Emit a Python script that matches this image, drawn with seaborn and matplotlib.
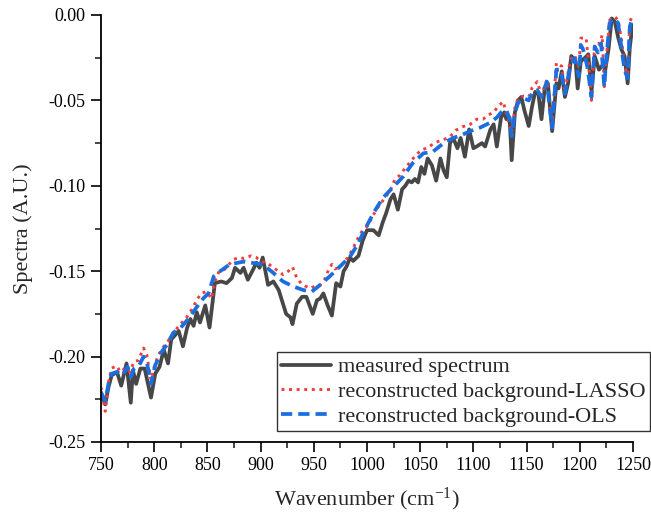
import matplotlib
matplotlib.use("Agg")
import matplotlib.pyplot as plt
from matplotlib.ticker import MultipleLocator, FormatStrFormatter
import seaborn as sns
import pandas as pd

# measured spectrum
wn_meas = [750, 754, 757, 760, 765, 769, 774, 778, 780, 783, 787, 791, 797, 801,
           805, 809, 813, 816, 823, 827, 831, 834, 837, 840, 843, 848, 852, 857,
           863, 868, 873, 876, 881, 884, 888, 893, 896, 899, 902, 907, 912, 917,
           921, 924, 928, 930, 934, 939, 943, 949, 953, 956, 959, 963, 967, 971,
           975, 978, 981, 984, 987, 992, 996, 1000, 1006, 1011, 1015, 1018, 1022,
           1025, 1029, 1033, 1036, 1039, 1042, 1045, 1048, 1051, 1054, 1057, 1061,
           1065, 1069, 1072, 1075, 1078, 1081, 1085, 1088, 1092, 1096, 1100, 1103,
           1108, 1111, 1116, 1119, 1122, 1126, 1129, 1131, 1134, 1136, 1139, 1142,
           1145, 1148, 1152, 1155, 1158, 1161, 1164, 1167, 1170, 1174, 1178, 1180,
           1183, 1186, 1189, 1192, 1196, 1198, 1201, 1205, 1208, 1211, 1214, 1218,
           1222, 1224, 1227, 1230, 1233, 1236, 1239, 1242, 1245, 1247, 1249.5]
sp_meas = [-0.221, -0.228, -0.218, -0.211, -0.209, -0.217, -0.204, -0.227, -0.208,
           -0.216, -0.207, -0.207, -0.224, -0.210, -0.206, -0.196, -0.204, -0.190,
           -0.185, -0.194, -0.183, -0.178, -0.182, -0.174, -0.180, -0.170, -0.183,
           -0.157, -0.156, -0.157, -0.154, -0.148, -0.151, -0.148, -0.155, -0.149,
           -0.145, -0.148, -0.142, -0.158, -0.156, -0.161, -0.169, -0.175, -0.177,
           -0.181, -0.169, -0.165, -0.165, -0.175, -0.167, -0.166, -0.163, -0.170,
           -0.176, -0.157, -0.159, -0.150, -0.147, -0.142, -0.144, -0.141, -0.132,
           -0.126, -0.126, -0.129, -0.121, -0.116, -0.108, -0.105, -0.114, -0.102,
           -0.100, -0.097, -0.098, -0.096, -0.098, -0.089, -0.093, -0.084, -0.088,
           -0.097, -0.084, -0.091, -0.095, -0.075, -0.072, -0.078, -0.072, -0.083,
           -0.067, -0.078, -0.077, -0.075, -0.077, -0.067, -0.064, -0.077, -0.060,
           -0.057, -0.061, -0.060, -0.085, -0.057, -0.050, -0.048, -0.056, -0.065,
           -0.054, -0.045, -0.046, -0.061, -0.043, -0.040, -0.068, -0.040, -0.043,
           -0.033, -0.048, -0.040, -0.024, -0.027, -0.043, -0.027, -0.025, -0.023,
           -0.045, -0.024, -0.032, -0.029, -0.032, -0.020, -0.002, -0.004, -0.013,
           -0.020, -0.024, -0.040, -0.019, -0.006]

# background reconstructed with LASSO
wn_lasso = [750, 754, 757, 760, 765, 768, 773, 777, 781, 785, 790, 793, 797, 800,
            804, 809, 813, 818, 824, 830, 835, 840, 844, 849, 854, 857, 861, 866,
            871, 875, 880, 884, 891, 896, 901, 906, 912, 917, 921, 926, 930, 934,
            938, 942, 947, 951, 956, 960, 964, 967, 970, 975, 982, 987, 992, 996,
            1001, 1006, 1012, 1017, 1022, 1026, 1031, 1037, 1042, 1046, 1051, 1056,
            1061, 1067, 1072, 1078, 1084, 1090, 1097, 1103, 1109, 1114, 1119, 1123,
            1128, 1131, 1134, 1136, 1139, 1142, 1147, 1152, 1155, 1160, 1164, 1169,
            1174, 1178, 1183, 1186, 1191, 1195, 1199, 1201, 1206, 1208, 1211, 1214,
            1219, 1221, 1223, 1225, 1228, 1233, 1236, 1239, 1242, 1245, 1247, 1249]
sp_lasso = [-0.218, -0.232, -0.215, -0.2067, -0.2055, -0.209, -0.2067, -0.209, -0.203,
            -0.2022, -0.195, -0.199, -0.2137, -0.206, -0.199, -0.194, -0.191, -0.186,
            -0.1815, -0.1775, -0.1727, -0.167, -0.163, -0.162, -0.166, -0.156, -0.150,
            -0.149, -0.1455, -0.143, -0.142, -0.1425, -0.141, -0.142, -0.1444, -0.145,
            -0.148, -0.150, -0.152, -0.150, -0.1475, -0.154, -0.157, -0.1587, -0.160,
            -0.1587, -0.158, -0.155, -0.149, -0.146, -0.1487, -0.1473, -0.142, -0.1365,
            -0.130, -0.126, -0.1233, -0.117, -0.111, -0.107, -0.1025, -0.0966, -0.0937,
            -0.0888, -0.085, -0.082, -0.079, -0.078, -0.076, -0.074, -0.073, -0.0712,
            -0.0673, -0.0654, -0.064, -0.061, -0.061, -0.0585, -0.057, -0.0537, -0.0507,
            -0.0576, -0.065, -0.069, -0.0545, -0.0486, -0.0475, -0.048, -0.0428, -0.039,
            -0.047, -0.038, -0.064, -0.028, -0.030, -0.045, -0.0263, -0.0234, -0.030,
            -0.0135, -0.0135, -0.026, -0.050, -0.0166, -0.0166, -0.0117, -0.042, -0.025,
            -0.003, -0.001, -0.003, -0.0137, -0.030, -0.035, -0.0039, -0.0012]

# background reconstructed with OLS
wn_ols = [750, 754, 757, 760, 765, 770, 775, 778, 781, 786, 790, 793, 797, 801,
          806, 812, 818, 825, 832, 840, 846, 851, 856, 862, 871, 884, 896, 902,
          912, 921, 931, 940, 948, 956, 965, 975, 984, 992, 996, 1006, 1015, 1025,
          1034, 1043, 1053, 1062, 1072, 1081, 1090, 1097, 1106, 1116, 1122, 1126,
          1131, 1134, 1136, 1139, 1142, 1147, 1152, 1155, 1160, 1164, 1169, 1174,
          1178, 1182, 1186, 1191, 1195, 1199, 1201, 1203, 1207, 1211, 1214, 1217,
          1220, 1223, 1225, 1228, 1232, 1236, 1239, 1242, 1245, 1247, 1249]
sp_ols = [-0.221, -0.226, -0.216, -0.210, -0.209, -0.211, -0.206, -0.212, -0.207,
          -0.205, -0.200, -0.203, -0.216, -0.205, -0.198, -0.193, -0.186, -0.183,
          -0.178, -0.171, -0.166, -0.163, -0.153, -0.150, -0.146, -0.1444, -0.1455,
          -0.146, -0.151, -0.156, -0.159, -0.161, -0.162, -0.158, -0.153, -0.147,
          -0.1415, -0.1335, -0.128, -0.116, -0.107, -0.1005, -0.0946, -0.0867,
          -0.081, -0.080, -0.075, -0.072, -0.070, -0.068, -0.066, -0.063, -0.060,
          -0.057, -0.0556, -0.061, -0.071, -0.057, -0.0516, -0.0486, -0.050, -0.046,
          -0.044, -0.048, -0.039, -0.066, -0.032, -0.032, -0.046, -0.030, -0.0253,
          -0.036, -0.0176, -0.020, -0.030, -0.048, -0.0185, -0.022, -0.0166, -0.042,
          -0.0244, -0.0047, -0.002, -0.0047, -0.0185, -0.032, -0.037, -0.0068, -0.0025]

labels = ["measured spectrum",
          "reconstructed background-LASSO",
          "reconstructed background-OLS"]

sns.set_style("ticks")
plt.rcParams["font.family"] = ["Liberation Serif", "DejaVu Serif"]
plt.rcParams["mathtext.fontset"] = "custom"
plt.rcParams["mathtext.rm"] = "Liberation Serif"
plt.rcParams["mathtext.it"] = "Liberation Serif:italic"

fig = plt.figure(figsize=(6.51, 5.14), dpi=100)
ax = fig.add_axes([101 / 651, 1 - 442 / 514, 532 / 651, 427 / 514])

df_meas = pd.DataFrame({"w": wn_meas, "s": sp_meas})
df_lasso = pd.DataFrame({"w": wn_lasso, "s": sp_lasso})
df_ols = pd.DataFrame({"w": wn_ols, "s": sp_ols})

sns.lineplot(data=df_meas, x="w", y="s", ax=ax, color="#474747", lw=2.7,
             label=labels[0], sort=False)
sns.lineplot(data=df_lasso, x="w", y="s", ax=ax, color="#f23b3b", lw=2.1,
             linestyle=(0, (1, 1.6)), label=labels[1], sort=False)
sns.lineplot(data=df_ols, x="w", y="s", ax=ax, color="#1a6ee0", lw=2.7,
             linestyle=(0, (3, 1.6)), label=labels[2], sort=False)

ax.set_xlim(750, 1250)
ax.set_ylim(-0.25, 0.0)
ax.xaxis.set_major_locator(MultipleLocator(50))
ax.xaxis.set_minor_locator(MultipleLocator(25))
ax.yaxis.set_major_locator(MultipleLocator(0.05))
ax.yaxis.set_minor_locator(MultipleLocator(0.025))
ax.yaxis.set_major_formatter(FormatStrFormatter("%.2f"))

for side in ("top", "right"):
    ax.spines[side].set_visible(False)
for side in ("left", "bottom"):
    ax.spines[side].set_linewidth(1.3)
    ax.spines[side].set_color("black")

ax.tick_params(which="major", direction="out", length=7, width=1.2,
               labelsize=13, colors="black", pad=4)
ax.tick_params(which="minor", direction="out", length=4, width=1.2)

ax.set_xlabel("Wavenumber (cm$^{-1}$)", fontsize=16, labelpad=8)
ax.set_ylabel("Spectra (A.U.)", fontsize=16, labelpad=11)

leg = ax.legend(loc="lower right", bbox_to_anchor=(650 / 651, 83 / 514),
                bbox_transform=fig.transFigure, borderaxespad=0,
                fontsize=16, frameon=True, fancybox=False, framealpha=1,
                edgecolor="#333333", handlelength=2.25, handletextpad=0.3,
                labelspacing=0.18, borderpad=0.2)
leg.get_frame().set_linewidth(1.0)

fig.savefig("out.png", dpi=100)
